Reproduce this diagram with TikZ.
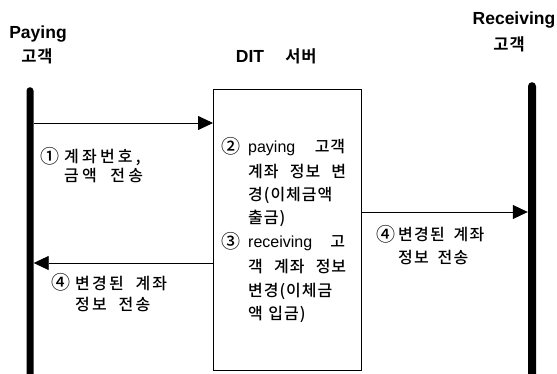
\documentclass[tikz,border=0pt]{standalone}
\usepackage{fontspec}
\setmainfont{Liberation Sans}
\newfontfamily\kr{Noto Sans CJK KR Medium}[LetterSpace=6,WordSpace=1.2]
\newfontfamily\krA{Noto Sans CJK KR Medium}[LetterSpace=20,WordSpace=2]
\newfontfamily\krB{Noto Sans CJK KR Medium}[LetterSpace=14,WordSpace=2]
\newfontfamily\krC{Noto Sans CJK KR Medium}[LetterSpace=8,WordSpace=1.8]
\newfontfamily\krb{Noto Sans CJK KR Bold}[LetterSpace=6]
\newcommand\circnum[2]{\makebox[#1][l]{\smash{\raisebox{-1pt}{\kr\fontsize{19}{19}\selectfont #2}}}}
\usetikzlibrary{arrows.meta}
\begin{document}
\begin{tikzpicture}[x=1pt,y=-1pt,
  lifeline/.style={fill=black, draw=none, rounded corners=3.5pt, minimum width=7pt, inner sep=0pt},
  msg/.style={line width=0.8pt, -{Triangle[length=15pt,width=14pt]}},
  body/.style={anchor=west, inner sep=0pt, font=\fontsize{16}{18}\selectfont},
  title/.style={inner sep=0pt, font=\fontsize{17.5}{20}\selectfont\bfseries},
  ktitle/.style={inner sep=0pt, font=\krb\fontsize{16.5}{19}\selectfont}]
\useasboundingbox (0,0) rectangle (557,374);
% titles
\node[title] (payT) at (38,34) {Paying};
\node[ktitle] (payK) at (37,56) {고객};
\node[title] (recT) at (514,20) {Receiving};
\node[ktitle] (recK) at (509,44) {고객};
\node[title] (ditT) at (250,56) {DIT};
\node[ktitle] (ditK) at (301,56) {서버};
% lifelines and server box
\node[lifeline, minimum height=300pt, anchor=north] (pay) at (30,87) {};
\node[lifeline, minimum width=8pt, rounded corners=4pt, minimum height=305pt, anchor=north] (rec) at (532,82) {};
\node[draw, line width=0.7pt, minimum width=148pt, minimum height=281pt, anchor=north west, inner sep=0pt] (dit) at (213,89) {};
% messages
\coordinate (h1) at (0,123);
\coordinate (h2) at (0,212);
\coordinate (h3) at (0,263);
\draw[msg] (pay.east |- h1) -- (dit.west |- h1);
\draw[msg] (dit.east |- h2) -- (rec.west |- h2);
\draw[msg] (dit.west |- h3) -- (pay.east |- h3);
% message labels
\node[body] (a1) at (40,157) {\circnum{24pt}{①}{\krA 계좌번호,}};
\node[body] (a2) at (64,176) {\krA 금액 전송};
\node[body] (b1) at (51,283) {\circnum{24pt}{④}{\krB 변경된 계좌}};
\node[body] (b2) at (75,305) {\krB 정보 전송};
\node[body] (c1) at (376,235) {\circnum{22pt}{④}{\krC 변경된 계좌}};
\node[body] (c2) at (398,258) {\krC 정보 전송};
% server text
\node[body] (d1) at (221,148) {\makebox[124pt][l]{\circnum{27pt}{②}{\rmfamily paying}\hfill{\kr 고객}}};
\node[body] (d2) at (248,171.5) {\makebox[98pt][s]{\kr 계좌 정보 변}};
\node[body] (d3) at (248,195) {\kr 경(이체금액};
\node[body] (d4) at (248,218) {\kr 출금)};
\node[body] (d5) at (221,243) {\makebox[124pt][l]{\circnum{27pt}{③}{\rmfamily receiving}\hfill{\kr 고}}};
\node[body] (d6) at (248,267) {\makebox[98pt][s]{\kr 객 계좌 정보}};
\node[body] (d7) at (248,291) {\kr 변경(이체금};
\node[body] (d8) at (248,314) {\kr 액 입금)};
\end{tikzpicture}
\end{document}
